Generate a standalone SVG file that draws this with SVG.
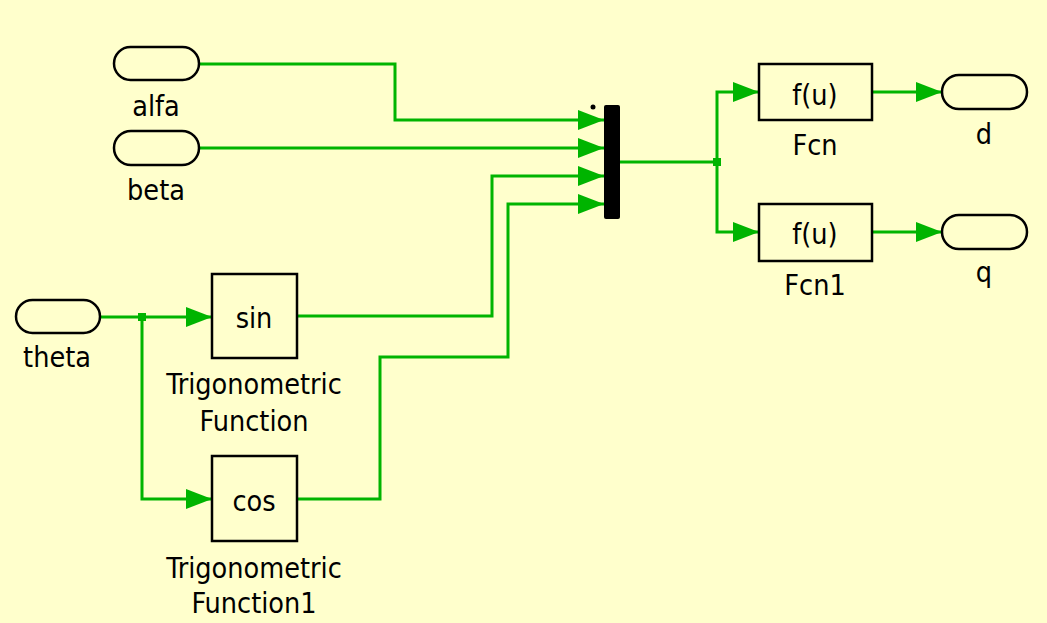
<svg xmlns="http://www.w3.org/2000/svg" width="1047" height="623" viewBox="0 0 1047 623">
<defs>
<style>
.bg{fill:#ffffcc}
.blk{fill:#ffffcc;stroke:#000;stroke-width:2.5}
.port{fill:#ffffcc;stroke:#000;stroke-width:2.5}
.w{fill:none;stroke:#00b400;stroke-width:3;marker-end:url(#ah)}
.wn{fill:none;stroke:#00b400;stroke-width:3}
text{font-family:"DejaVu Sans Condensed","DejaVu Sans",sans-serif;font-size:28.5px;fill:#000;text-anchor:middle}
</style>
<marker id="ah" markerUnits="userSpaceOnUse" markerWidth="27" markerHeight="21" refX="26" refY="10" orient="auto">
<path d="M0,0 L26,10 L0,20 z" fill="#00b400"/>
</marker>
</defs>
<rect class="bg" x="0" y="0" width="1047" height="623"/>
<g id="connectors">
<polyline class="w" points="199,64 395,64 395,120 604,120"/>
<polyline class="w" points="199,148 604,148"/>
<polyline class="w" points="297,316 492,316 492,176 604,176"/>
<polyline class="w" points="297,499 380,499 380,357 508,357 508,204 604,204"/>
<polyline class="w" points="100,317 212,317"/>
<polyline class="w" points="142,317 142,499 212,499"/>
<polyline class="wn" points="620,162 717,162"/>
<polyline class="w" points="717,162 717,92 759,92"/>
<polyline class="w" points="717,162 717,232 759,232"/>
<polyline class="w" points="872,92 942,92"/>
<polyline class="w" points="872,232 942,232"/>
<rect x="138" y="313" width="8" height="8" fill="#00b400"/>
<rect x="713" y="158" width="8" height="8" fill="#00b400"/>
</g>
<g id="alfa">
<rect class="port" x="114" y="47" width="85" height="33" rx="16.5"/>
<text x="156" y="116">alfa</text>
</g>
<g id="beta">
<rect class="port" x="114" y="131" width="85" height="34" rx="17"/>
<text x="156" y="200">beta</text>
</g>
<g id="theta">
<rect class="port" x="16" y="300" width="84" height="33" rx="16.5"/>
<text x="57" y="367">theta</text>
</g>
<g id="sin">
<rect class="blk" x="212" y="274" width="85" height="84"/>
<text x="254" y="328">sin</text>
<text x="254" y="394">Trigonometric</text>
<text x="254" y="431">Function</text>
</g>
<g id="cos">
<rect class="blk" x="212" y="456" width="85" height="85"/>
<text x="254" y="511">cos</text>
<text x="254" y="578">Trigonometric</text>
<text x="254" y="613">Function1</text>
</g>
<g id="mux">
<rect x="604" y="105" width="16" height="114" rx="2" fill="#000"/>
<circle cx="593" cy="107" r="2.5" fill="#000"/>
</g>
<g id="Fcn">
<rect class="blk" x="759" y="64" width="113" height="56"/>
<text x="815" y="105">f(u)</text>
<text x="815" y="155">Fcn</text>
</g>
<g id="Fcn1">
<rect class="blk" x="759" y="204" width="113" height="57"/>
<text x="815" y="244">f(u)</text>
<text x="815" y="295">Fcn1</text>
</g>
<g id="d">
<rect class="port" x="942" y="75" width="85" height="34" rx="17"/>
<text x="984" y="144">d</text>
</g>
<g id="q">
<rect class="port" x="942" y="215" width="85" height="34" rx="17"/>
<text x="984" y="282">q</text>
</g>
</svg>
